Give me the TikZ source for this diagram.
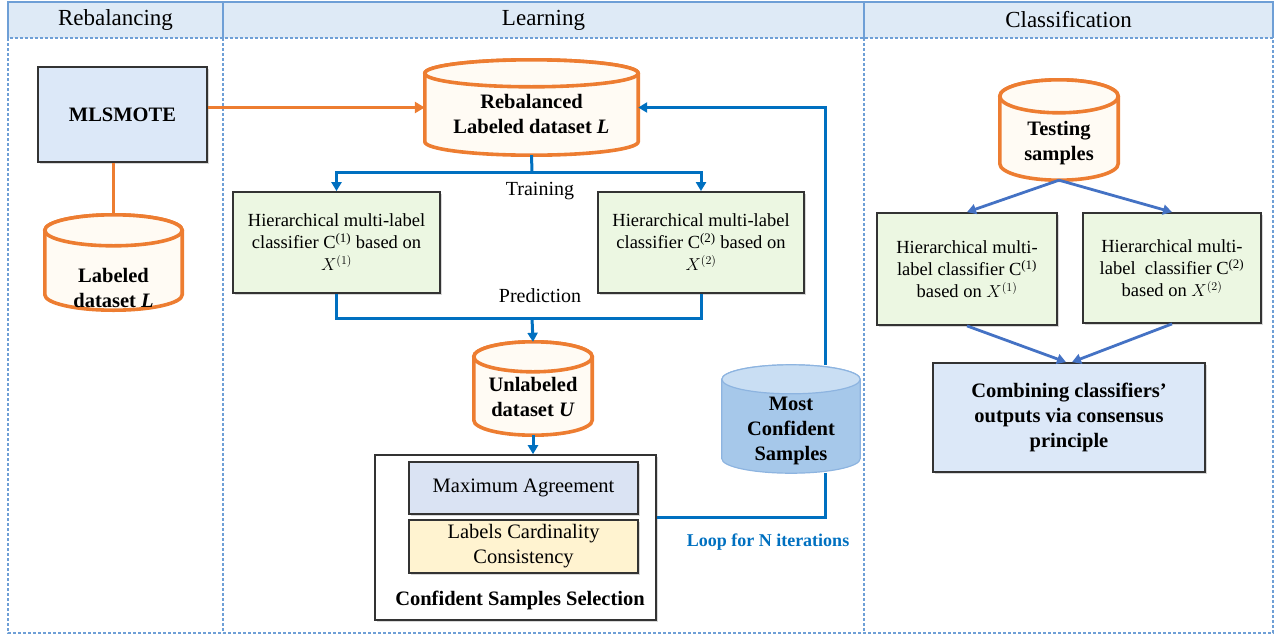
\documentclass[tikz,border=0pt]{standalone}
\usepackage{fontspec}
\setmainfont{Liberation Serif}
\usetikzlibrary{arrows.meta,shadows,calc,backgrounds}

\definecolor{hdrfill}{HTML}{DEEAF6}
\definecolor{hdrline}{HTML}{6E9FD6}
\definecolor{orng}{HTML}{ED7D31}
\definecolor{cylfill}{HTML}{FFFBF4}
\definecolor{lblue}{HTML}{0070C0}
\definecolor{cblue}{HTML}{4472C4}
\definecolor{boxblue}{HTML}{DCE8F8}
\definecolor{boxgreen}{HTML}{ECF7E2}
\definecolor{agreefill}{HTML}{DAE3F3}
\definecolor{cardfill}{HTML}{FFF3D0}
\definecolor{mostbody}{HTML}{A6C8EA}
\definecolor{mostend}{HTML}{C9DEF3}
\definecolor{mostline}{HTML}{8DB4E0}

% text of a data store, moved down inside the cylinder
\newcommand\dblabel[2]{\raisebox{#1}[\height][\depth]{\begin{tabular}{@{}c@{}}#2\end{tabular}}}
% cylinder round a node: node, end radius, style, end fill
\newcommand\drawdb[4]{%
  \path[#3] let \p1=(#1.north west), \p2=(#1.south east), \n1={(\x2-\x1)/2} in
    (\x1,\y1-#2pt) -- (\x1,\y2+#2pt)
    arc[start angle=180, end angle=360, x radius=\n1, y radius=#2pt]
    -- (\x2,\y1-#2pt)
    arc[start angle=0, end angle=180, x radius=\n1, y radius=#2pt] -- cycle;
  \path[#3, fill=#4] let \p1=(#1.north west), \p2=(#1.south east),
    \n1={(\x2-\x1)/2}, \n2={(\x1+\x2)/2} in
    (\n2,\y1-#2pt) ellipse[x radius=\n1, y radius=#2pt];
}

\begin{document}
\begin{tikzpicture}[x=1pt, y=-1pt,
  hdr/.style={font=\fontsize{23}{26}\selectfont},
  panel/.style={draw=hdrline, line width=1.2pt, dash pattern=on 3pt off 2pt},
  dbnode/.style={inner sep=0pt, font=\bfseries\fontsize{20.5}{25}\selectfont},
  orangedb/.style={draw=orng, line width=3.6pt, fill=cylfill},
  mostdb/.style={draw=mostline, line width=1.2pt, fill=mostbody},
  clsbox/.style={draw=black!80, line width=1.8pt, fill=boxgreen, align=center,
    font=\fontsize{18.5}{22}\selectfont,
    drop shadow={shadow xshift=2pt, shadow yshift=-2pt, fill=black!30}},
  oline/.style={draw=orng, line width=3.4pt},
  bline/.style={draw=lblue, line width=3pt},
  barrow/.style={bline, -{Triangle[length=9pt,width=10pt]}},
  carrow/.style={draw=cblue, line width=2.8pt, -{Triangle[length=9pt,width=10pt]}},
  lbl/.style={font=\fontsize{20}{24}\selectfont}]

  \useasboundingbox (0,0) rectangle (1277,635);

  % columns
  \fill[hdrfill] (8,2) rectangle (1273,38);
  \draw[hdrline, line width=1.2pt] (8,38) -- (8,2) -- (1273,2) -- (1273,38);
  \draw[hdrline, line width=1.2pt] (223,2) -- (223,38);
  \draw[hdrline, line width=1.2pt] (864,2) -- (864,38);
  \draw[panel] (8,38) -- (8,633) -- (1273,633) -- (1273,38) -- cycle;
  \draw[panel] (223,38) -- (223,633);
  \draw[panel] (864,38) -- (864,633);
  \node[hdr] (hRebal) at (115.5,20) {Rebalancing};
  \node[hdr] (hLearn) at (543.5,20) {Learning};
  \node[hdr] (hClass) at (1068.5,20) {Classification};

  % rebalancing
  \node[clsbox, fill=boxblue, minimum width=169pt, minimum height=95pt,
    font=\bfseries\fontsize{20.5}{25}\selectfont] (mlsmote) at (122.5,114.5) {MLSMOTE};
  \node[dbnode, minimum width=137pt, minimum height=95pt] (labeled) at (113.5,262.5)
    {\dblabel{-27pt}{Labeled\\dataset \textit{L}}};

  % learning
  \node[dbnode, minimum width=213pt, minimum height=95pt] (rebal) at (531.5,107.5)
    {\dblabel{-8.5pt}{Rebalanced\\Labeled dataset \textit{L}}};
  \node[clsbox, minimum width=207pt, minimum height=101pt] (c1L) at (336.5,242.5)
    {Hierarchical multi-label\\classifier C\textsuperscript{(1)} based on\\$X^{(1)}$};
  \node[clsbox, minimum width=206pt, minimum height=101pt] (c2L) at (701,242.5)
    {Hierarchical multi-label\\classifier C\textsuperscript{(2)} based on\\$X^{(2)}$};
  \node[lbl] (train) at (540,191) {Training};
  \node[lbl] (pred) at (540,296) {Prediction};
  \node[dbnode, minimum width=118pt, minimum height=93pt] (unlab) at (533,388.5)
    {\dblabel{-10pt}{Unlabeled\\dataset \textit{U}}};
  \node[draw=black!80, line width=1.6pt, fill=white, minimum width=281pt,
    minimum height=165pt, drop shadow={shadow xshift=2pt, shadow yshift=-2pt, fill=black!30}]
    (css) at (515.5,537.5) {};
  \node[clsbox, fill=agreefill, minimum width=229pt, minimum height=52pt,
    font=\fontsize{20.5}{25}\selectfont] (maxag) at (523.5,488) {Maximum Agreement};
  \node[clsbox, fill=cardfill, minimum width=229pt, minimum height=53pt,
    font=\fontsize{20.5}{25}\selectfont] (lcc) at (523.5,546.5) {Labels Cardinality\\Consistency};
  \node[font=\bfseries\fontsize{20.5}{25}\selectfont] (csstitle) at (520,600)
    {Confident Samples Selection};
  \node[dbnode, minimum width=138pt, minimum height=108pt] (most) at (791,419)
    {\dblabel{-11.5pt}{Most\\Confident\\Samples}};
  \node[text=lblue, font=\bfseries\fontsize{18}{22}\selectfont] (loop) at (768,542)
    {Loop for N iterations};

  % classification
  \node[dbnode, minimum width=118pt, minimum height=100pt] (testing) at (1059,130)
    {\dblabel{-12.5pt}{Testing\\samples}};
  \node[clsbox, minimum width=180pt, minimum height=112pt] (c1C) at (967,269)
    {Hierarchical multi-\\label classifier C\textsuperscript{(1)}\\based on $X^{(1)}$};
  \node[clsbox, minimum width=178pt, minimum height=110pt] (c2C) at (1172,268)
    {Hierarchical multi-\\label\ \ classifier C\textsuperscript{(2)}\\based on $X^{(2)}$};
  \node[clsbox, fill=boxblue, minimum width=272pt, minimum height=109pt,
    font=\bfseries\fontsize{20.5}{25}\selectfont] (comb) at (1069,417.5)
    {Combining classifiers'\\outputs via consensus\\principle};

  % data stores
  \begin{pgfonlayer}{background}
    \drawdb{labeled}{15.5}{orangedb}{cylfill}
    \drawdb{rebal}{13.5}{orangedb}{cylfill}
    \drawdb{unlab}{15}{orangedb}{cylfill}
    \drawdb{testing}{16.5}{orangedb}{cylfill}
    \drawdb{most}{14.5}{mostdb}{mostend}
  \end{pgfonlayer}

  \coordinate (trainfork) at (532,172);
  \coordinate (predfork) at (532,318);
  \coordinate (loopcorner) at (825,517);

  \draw[oline] (mlsmote.south -| labeled.north) -- (labeled.north);
  \draw[oline, -{Triangle[length=10pt,width=11pt]}] (mlsmote.east |- rebal.west) -- (rebal.west);
  \draw[bline] (rebal.south) -- (trainfork);
  \draw[barrow] (trainfork) -| (c1L.north);
  \draw[barrow] (trainfork) -| (c2L.north);
  \draw[bline] (c1L.south) |- (predfork);
  \draw[bline] (c2L.south) |- (predfork);
  \draw[barrow] (predfork) -- (unlab.north);
  \draw[barrow] (unlab.south) -- (css.north -| unlab.south);
  \draw[bline] (css.east |- loopcorner) -- (loopcorner) -- (loopcorner |- most.south);
  \draw[barrow] (loopcorner |- most.north) |- (rebal.east);

  \draw[carrow] (testing.south) -- (c1C.north);
  \draw[carrow] (testing.south) -- (c2C.north);
  \draw[carrow] (c1C.south) -- ([xshift=-3pt]comb.north);
  \draw[carrow] (c2C.south) -- ([xshift=3pt]comb.north);
\end{tikzpicture}
\end{document}
